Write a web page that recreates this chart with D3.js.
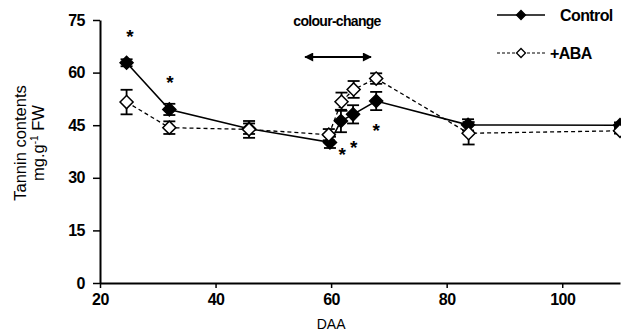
<!DOCTYPE html>
<html>
<head>
<meta charset="utf-8">
<script src="https://cdn.jsdelivr.net/npm/d3@7"></script>
<style>
  body { margin: 0; background: #fff; }
  text { font-family: "Liberation Sans", Arial, sans-serif; fill: #000; }
</style>
</head>
<body>
<div id="chart"></div>
<script>
// DAA sampling days
const daa = [24.6, 32.0, 45.8, 59.8, 61.7, 63.8, 67.8, 83.7, 110];
const controlMean = [62.8, 49.5, 44.0, 40.1, 46.2, 48.1, 51.9, 45.1, 45.0];
const controlErr = [1.0, 1.6, 1.5, 1.6, 3.2, 2.6, 2.6, 1.6, 0.8];
const abaDaa = [24.6, 32.0, 45.8, 59.6, 61.8, 63.9, 67.8, 83.8, 110];
const abaMean = [51.6, 44.3, 43.8, 42.3, 51.7, 55.2, 58.3, 42.7, 43.4];
const abaErr = [3.5, 1.8, 2.4, 1.6, 2.6, 2.4, 1.5, 3.2, 0.8];
// significance marks
const starX = [25.2, 32.1, 61.9, 63.9, 67.8];
const starY = [71.2, 58.2, 37.7, 39.7, 44.6];
const xTicks = [20, 40, 60, 80, 100];
const yTicks = [0, 15, 30, 45, 60, 75];
const arrowRange = [55.5, 66.9];

const width = 621, height = 334;
const margin = {left: 100, right: 1, top: 20, bottom: 51};

const svg = d3.select('#chart').append('svg')
    .attr('width', width)
    .attr('height', height);

const x = d3.scaleLinear().domain([20, 110]).range([margin.left, width - margin.right]);
const y = d3.scaleLinear().domain([0, 75]).range([height - margin.bottom, margin.top]);

// axes
const xAxis = svg.append('g')
    .attr('transform', `translate(0,${y(0)})`)
    .call(d3.axisBottom(x).tickValues(xTicks).tickSize(5).tickPadding(6).tickSizeOuter(0));
const yAxis = svg.append('g')
    .attr('transform', `translate(${x(20)},0)`)
    .call(d3.axisLeft(y).tickValues(yTicks).tickSize(7).tickPadding(8).tickSizeOuter(0));

[xAxis, yAxis].forEach(a => {
  a.select('.domain').attr('stroke', '#000').attr('stroke-width', 2);
  a.selectAll('.tick line').attr('stroke', '#000').attr('stroke-width', 1.5);
  a.selectAll('.tick text')
      .attr('fill', '#000')
      .style('font-size', '16px')
      .style('font-weight', 'bold')
      .style('letter-spacing', '-0.5px');
});

// axis titles
svg.append('text')
    .attr('x', x(60)).attr('y', 329)
    .attr('text-anchor', 'middle')
    .attr('fill', '#000')
    .style('font-size', '14px')
    .text('DAA');

const yl = svg.append('g').attr('transform', 'translate(26,143) rotate(-90)');
yl.append('text')
    .attr('text-anchor', 'middle')
    .attr('fill', '#000')
    .style('font-size', '16.5px')
    .text('Tannin contents');
const yl2 = yl.append('text')
    .attr('y', 18)
    .attr('text-anchor', 'middle')
    .attr('fill', '#000')
    .style('font-size', '16.5px');
yl2.append('tspan').text('mg.g');
yl2.append('tspan').attr('dy', -6).style('font-size', '10px').text('-1');
yl2.append('tspan').attr('dy', 6).text(' FW');

const controlData = daa.map((d, i) => ({x: d, y: controlMean[i], e: controlErr[i]}));
const abaData = abaDaa.map((d, i) => ({x: d, y: abaMean[i], e: abaErr[i]}));

const line = d3.line().x(d => x(d.x)).y(d => y(d.y));
const diamond = d3.symbol(d3.symbolSquare, 85);

function drawSeries(data, dashed, fill) {
  const g = svg.append('g');
  g.append('path')
      .datum(data)
      .attr('d', line)
      .attr('fill', 'none')
      .attr('stroke', '#000')
      .attr('stroke-width', dashed ? 1.3 : 1.6)
      .attr('stroke-dasharray', dashed ? '4,3' : null);

  const eb = g.selectAll('.eb').data(data).join('g').attr('class', 'eb');
  eb.append('line')
      .attr('x1', d => x(d.x)).attr('x2', d => x(d.x))
      .attr('y1', d => y(d.y - d.e)).attr('y2', d => y(d.y + d.e));
  eb.append('line')
      .attr('x1', d => x(d.x) - 6).attr('x2', d => x(d.x) + 6)
      .attr('y1', d => y(d.y + d.e)).attr('y2', d => y(d.y + d.e));
  eb.append('line')
      .attr('x1', d => x(d.x) - 6).attr('x2', d => x(d.x) + 6)
      .attr('y1', d => y(d.y - d.e)).attr('y2', d => y(d.y - d.e));
  eb.selectAll('line').attr('stroke', '#000').attr('stroke-width', 1.8);

  g.selectAll('.pt').data(data).join('path')
      .attr('class', 'pt')
      .attr('d', diamond)
      .attr('transform', d => `translate(${x(d.x)},${y(d.y)}) rotate(45)`)
      .attr('fill', fill)
      .attr('stroke', '#000')
      .attr('stroke-width', 1.5);
}

drawSeries(controlData, false, '#000');
drawSeries(abaData, true, '#fff');

// asterisks
svg.selectAll('.star').data(starX).join('text')
    .attr('class', 'star')
    .attr('x', d => x(d))
    .attr('y', (d, i) => y(starY[i]) + 10)
    .attr('text-anchor', 'middle')
    .style('font-size', '19px')
    .style('font-weight', 'bold')
    .text('*');

// colour-change annotation
svg.append('text')
    .attr('x', 337).attr('y', 26)
    .attr('text-anchor', 'middle')
    .style('font-size', '14px')
    .style('font-weight', 'bold')
    .style('letter-spacing', '-0.7px')
    .text('colour-change');

const defs = svg.append('defs');
defs.append('marker')
    .attr('id', 'ah')
    .attr('viewBox', '0 0 10 10')
    .attr('refX', 9).attr('refY', 5)
    .attr('markerWidth', 5).attr('markerHeight', 4.5)
    .attr('markerUnits', 'strokeWidth')
    .attr('orient', 'auto-start-reverse')
    .append('path')
    .attr('d', 'M0,0 L10,5 L0,10 z')
    .attr('fill', '#000');

svg.append('line')
    .attr('x1', x(arrowRange[0])).attr('x2', x(arrowRange[1]))
    .attr('y1', 57).attr('y2', 57)
    .attr('stroke', '#000')
    .attr('stroke-width', 2)
    .attr('marker-start', 'url(#ah)')
    .attr('marker-end', 'url(#ah)');

// legend
const legend = [
  {label: 'Control', dashed: false, fill: '#000', y: 15, tx: 560},
  {label: '+ABA', dashed: true, fill: '#fff', y: 53, tx: 550}
];
const lg = svg.selectAll('.leg').data(legend).join('g').attr('class', 'leg');
lg.append('line')
    .attr('x1', 497).attr('x2', 545)
    .attr('y1', d => d.y).attr('y2', d => d.y)
    .attr('stroke', '#000')
    .attr('stroke-width', d => d.dashed ? 1.2 : 1.6)
    .attr('stroke-dasharray', d => d.dashed ? '3,2' : null);
lg.append('path')
    .attr('d', d3.symbol(d3.symbolSquare, 40))
    .attr('transform', d => `translate(521,${d.y}) rotate(45)`)
    .attr('fill', d => d.fill)
    .attr('stroke', '#000')
    .attr('stroke-width', 1.3);
lg.append('text')
    .attr('x', d => d.tx)
    .attr('y', d => d.y + 5.5)
    .style('font-size', '16px')
    .style('font-weight', 'bold')
    .style('letter-spacing', '-0.6px')
    .text(d => d.label);
</script>
</body>
</html>
